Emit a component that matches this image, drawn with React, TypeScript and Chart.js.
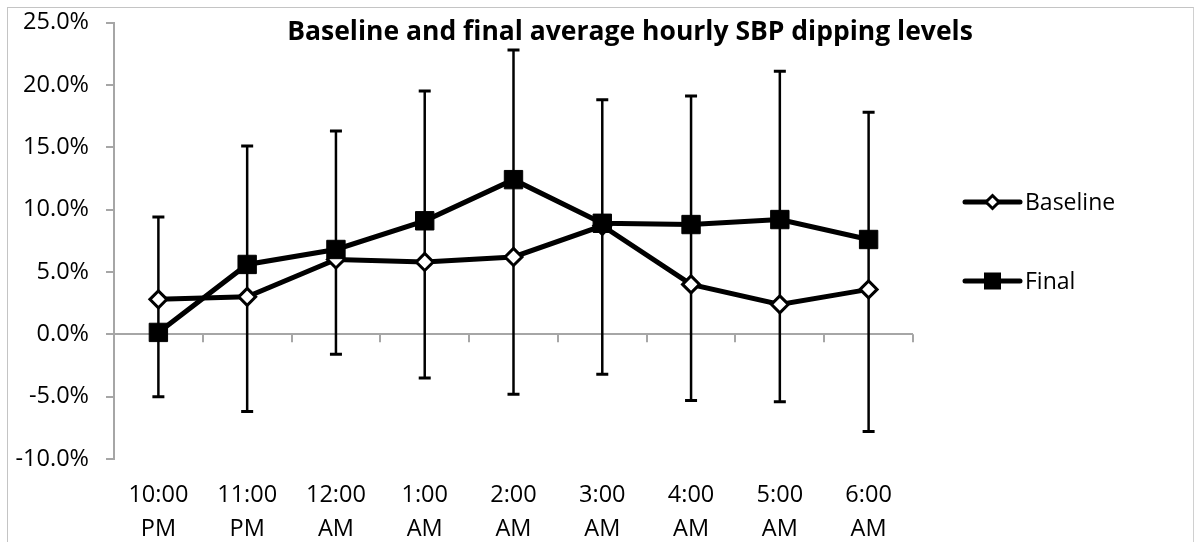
import React, { useEffect, useRef } from "react";
import { Chart, registerables } from "chart.js";

Chart.register(...registerables);

const categories: string[][] = [
  ["10:00", "PM"],
  ["11:00", "PM"],
  ["12:00", "AM"],
  ["1:00", "AM"],
  ["2:00", "AM"],
  ["3:00", "AM"],
  ["4:00", "AM"],
  ["5:00", "AM"],
  ["6:00", "AM"],
];
const baselineValues = [2.8, 3.0, 6.0, 5.8, 6.2, 8.7, 4.0, 2.4, 3.6];
const finalValues = [0.15, 5.6, 6.8, 9.1, 12.4, 8.9, 8.8, 9.2, 7.6];
const errorUpper = [9.4, 15.1, 16.3, 19.5, 22.8, 18.8, 19.1, 21.1, 17.8];
const errorLower = [-5.0, -6.2, -1.6, -3.5, -4.8, -3.2, -5.3, -5.4, -7.8];
const yMin = -10;
const yMax = 25;
const yStep = 5;
const titleText = "Baseline and final average hourly SBP dipping levels";
const seriesNames = ["Baseline", "Final"];

const FONT = "'Open Sans', Lato, sans-serif";
const AXIS_GRAY = "#a6a6a6";

const errorBarsPlugin = {
  id: "errorBars",
  beforeDatasetsDraw(chart: any) {
    const { ctx } = chart;
    const x = chart.scales.x;
    const y = chart.scales.y;
    ctx.save();
    ctx.strokeStyle = "#000";
    for (let i = 0; i < categories.length; i++) {
      const px = x.getPixelForValue(i);
      const top = y.getPixelForValue(errorUpper[i]);
      const bot = y.getPixelForValue(errorLower[i]);
      ctx.lineWidth = 2.5;
      ctx.beginPath();
      ctx.moveTo(px, top);
      ctx.lineTo(px, bot);
      ctx.stroke();
      ctx.lineWidth = 3;
      ctx.beginPath();
      ctx.moveTo(px - 6, top);
      ctx.lineTo(px + 6, top);
      ctx.moveTo(px - 6, bot);
      ctx.lineTo(px + 6, bot);
      ctx.stroke();
    }
    ctx.restore();
  },
};

const xTicksPlugin = {
  id: "xTickMarks",
  beforeDatasetsDraw(chart: any) {
    const { ctx } = chart;
    const x = chart.scales.x;
    const y = chart.scales.y;
    const y0 = y.getPixelForValue(0);
    ctx.save();
    ctx.strokeStyle = AXIS_GRAY;
    ctx.lineWidth = 2;
    ctx.beginPath();
    for (let i = 0; i <= categories.length; i++) {
      const px = Math.round(x.getPixelForValue(i - 0.5));
      ctx.moveTo(px, y0);
      ctx.lineTo(px, y0 + 8);
    }
    ctx.stroke();
    ctx.restore();
  },
};

function drawDiamond(ctx: CanvasRenderingContext2D, cx: number, cy: number, r: number) {
  ctx.beginPath();
  ctx.moveTo(cx, cy - r);
  ctx.lineTo(cx + r, cy);
  ctx.lineTo(cx, cy + r);
  ctx.lineTo(cx - r, cy);
  ctx.closePath();
  ctx.fillStyle = "#fff";
  ctx.fill();
  ctx.lineWidth = 3;
  ctx.strokeStyle = "#000";
  ctx.stroke();
}

const titleLegendPlugin = {
  id: "titleLegend",
  afterDraw(chart: any) {
    const { ctx, chartArea } = chart;
    ctx.save();
    ctx.fillStyle = "#000";
    ctx.font = `bold 26.5px ${FONT}`;
    ctx.textAlign = "center";
    ctx.textBaseline = "alphabetic";
    ctx.fillText(titleText, 622, 32);

    const lx0 = chartArea.right + 52;
    const lx1 = lx0 + 55;
    const mx = (lx0 + lx1) / 2;
    const rows = [194, 273];
    ctx.lineCap = "round";
    rows.forEach((ry, idx) => {
      ctx.strokeStyle = "#000";
      ctx.lineWidth = 5;
      ctx.beginPath();
      ctx.moveTo(lx0, ry);
      ctx.lineTo(lx1, ry);
      ctx.stroke();
      if (idx === 0) {
        drawDiamond(ctx, mx, ry, 6.5);
      } else {
        ctx.fillStyle = "#000";
        ctx.fillRect(mx - 8.5, ry - 8.5, 17, 17);
      }
      ctx.fillStyle = "#000";
      ctx.font = `23px ${FONT}`;
      ctx.textAlign = "left";
      ctx.textBaseline = "middle";
      ctx.fillText(seriesNames[idx], lx1 + 5, ry + 1);
    });
    ctx.restore();
  },
};

export default function App() {
  const ref = useRef<HTMLCanvasElement | null>(null);

  useEffect(() => {
    document.documentElement.style.overflow = "hidden";
    const canvas = ref.current;
    if (!canvas) return;
    const chart = new Chart(canvas, {
      type: "line",
      data: {
        labels: categories,
        datasets: [
          {
            label: seriesNames[0],
            data: baselineValues,
            borderColor: "#000",
            borderWidth: 5,
            tension: 0,
            pointStyle: "rectRot",
            pointRadius: 8.5,
            pointBackgroundColor: "#fff",
            pointBorderColor: "#000",
            pointBorderWidth: 3,
            order: 2,
          },
          {
            label: seriesNames[1],
            data: finalValues,
            borderColor: "#000",
            borderWidth: 5,
            tension: 0,
            pointStyle: "rect",
            pointRadius: 13,
            pointBackgroundColor: "#000",
            pointBorderColor: "#000",
            pointBorderWidth: 1,
            order: 1,
          },
        ],
      },
      options: {
        responsive: false,
        animation: false,
        devicePixelRatio: 1,
        layout: { padding: { left: 0, right: 280, top: 0, bottom: 0 } },
        plugins: {
          legend: { display: false },
          title: { display: false },
          tooltip: { enabled: false },
        },
        scales: {
          x: {
            type: "category",
            offset: true,
            grid: { display: false, drawTicks: false },
            border: { display: false },
            ticks: {
              color: "#000",
              font: { family: FONT, size: 23.5, lineHeight: 34 / 23.5 },
              padding: 19,
              maxRotation: 0,
              autoSkip: false,
            },
            afterFit(scale: any) {
              scale.height = 83;
            },
          },
          y: {
            min: yMin,
            max: yMax,
            ticks: {
              stepSize: yStep,
              color: "#000",
              font: { family: FONT, size: 23.5 },
              padding: 17,
              callback: (v: any) => Number(v).toFixed(1) + "%",
            },
            grid: {
              color: (c: any) => (c.tick && c.tick.value === 0 ? AXIS_GRAY : "rgba(0,0,0,0)"),
              lineWidth: 2,
              tickColor: AXIS_GRAY,
              tickLength: 8,
              drawTicks: true,
            },
            border: { display: true, color: AXIS_GRAY, width: 2 },
            afterFit(scale: any) {
              scale.width = 106;
              scale.paddingTop = 14.5;
              scale.paddingBottom = 14.5;
            },
          },
        },
      },
      plugins: [xTicksPlugin, errorBarsPlugin, titleLegendPlugin],
    } as any);
    return () => chart.destroy();
  }, []);

  return (
    <div
      style={{
        position: "absolute",
        left: 7,
        top: 7,
        width: 1187,
        height: 535,
        boxSizing: "border-box",
        borderLeft: "1px solid #c4c4c4",
        borderTop: "1px solid #c4c4c4",
        borderRight: "1px solid #d0d0d0",
        background: "#fff",
      }}
    >
      <canvas ref={ref} width={1185} height={534} style={{ display: "block", width: 1185, height: 534 }} />
    </div>
  );
}
